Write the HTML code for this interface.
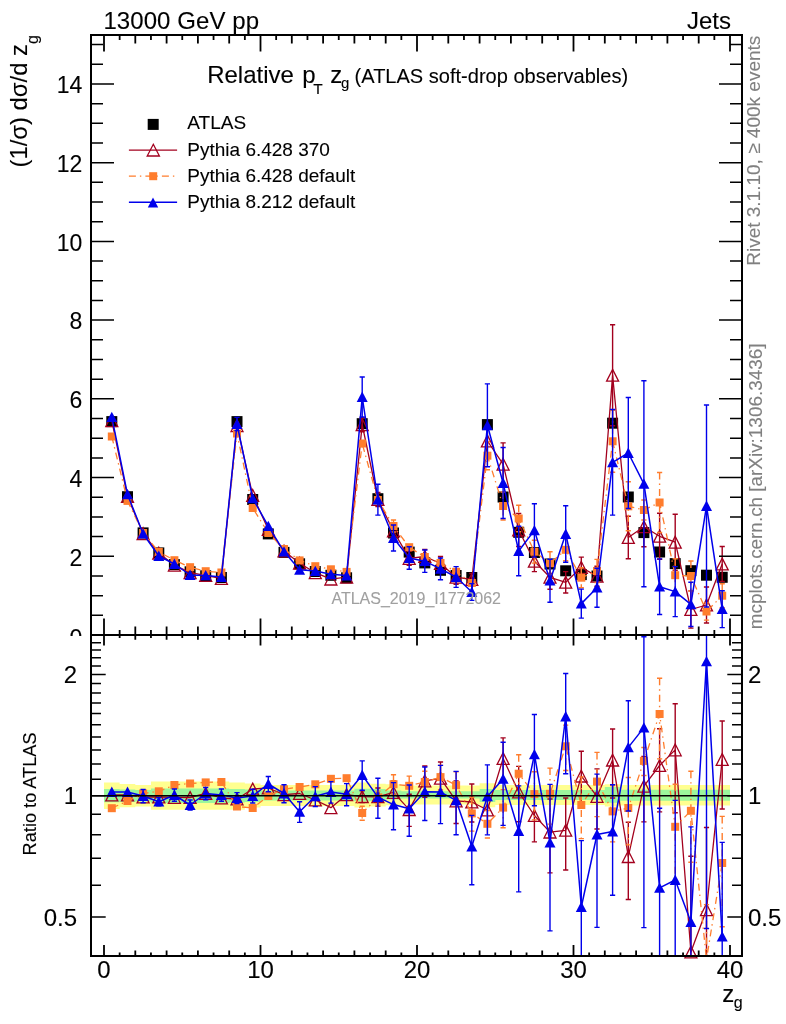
<!DOCTYPE html><html><head><meta charset="utf-8"><style>html,body{margin:0;padding:0;background:#fff}svg{display:block;will-change:transform}</style></head><body>
<svg width="786" height="1024" viewBox="0 0 786 1024" font-family="Liberation Sans, sans-serif">
<style>text{stroke:#000;stroke-width:0.1px}</style>
<defs><clipPath id="cm"><rect x="92" y="36" width="649" height="598"/></clipPath><clipPath id="cr"><rect x="92" y="636" width="649" height="319"/></clipPath></defs>
<rect width="786" height="1024" fill="#fff"/>
<text x="103.4" y="28.8" font-size="24" letter-spacing="0.08">13000 GeV pp</text><text x="731" y="28.8" font-size="24" text-anchor="end">Jets</text><text x="207.2" y="82.8" font-size="24">Relative</text><text x="302.3" y="82.8" font-size="24">p</text><text x="313.2" y="94.4" font-size="15.5">T</text><text x="330.3" y="82.6" font-size="24">z</text><text x="341" y="88.4" font-size="15">g</text><text x="354.6" y="82.9" font-size="20.05">(ATLAS soft-drop observables)</text><rect x="147.7" y="118.9" width="11" height="11" fill="#000"/><path d="M128.9,150.2H177.1" stroke="#a3001e" stroke-width="1.3"/><path d="M153.3,144.3L159.4,156H147.2Z" fill="none" stroke="#a3001e" stroke-width="1.3"/><path d="M128.9,176.1H177.1" stroke="#ff7d2d" stroke-width="1.3" stroke-dasharray="7,4,1.4,4.1"/><rect x="149.2" y="172.2" width="8" height="8" fill="#ff7d2d"/><path d="M128.9,202.2H177.1" stroke="#0000eb" stroke-width="1.5"/><path d="M153,197.5L158.2,207.6H147.8Z" fill="#0000eb"/><text x="187.3" y="129.4" font-size="19">ATLAS</text><text x="187.3" y="155.6" font-size="19">Pythia 6.428 370</text><text x="187.3" y="181.9" font-size="19">Pythia 6.428 default</text><text x="187.3" y="208.0" font-size="19">Pythia 8.212 default</text><text transform="translate(27,167.4) rotate(-90)" font-size="23.8">(1/σ) dσ/d z<tspan font-size="16" dy="10.8">g</tspan></text><text transform="translate(760.2,265.8) rotate(-90)" font-size="19" fill="#808080" style="stroke:#808080">Rivet 3.1.10, ≥ 400k events</text><text transform="translate(762.2,629.2) rotate(-90)" font-size="18.9" fill="#808080" style="stroke:#808080">mcplots.cern.ch [arXiv:1306.3436]</text><text transform="translate(36.2,855.4) rotate(-90)" font-size="18.2">Ratio to ATLAS</text><text x="722.3" y="1001.9" font-size="24">z</text><text x="733.8" y="1008" font-size="16">g</text>
<g clip-path="url(#cm)"></g><rect x="106.3" y="416.1" width="11" height="11" fill="#000"/><rect x="122.0" y="491.2" width="11" height="11" fill="#000"/><rect x="137.6" y="527.4" width="11" height="11" fill="#000"/><rect x="153.3" y="547.4" width="11" height="11" fill="#000"/><rect x="168.9" y="559.1" width="11" height="11" fill="#000"/><rect x="184.6" y="566.3" width="11" height="11" fill="#000"/><rect x="200.2" y="570.3" width="11" height="11" fill="#000"/><rect x="215.9" y="572.0" width="11" height="11" fill="#000"/><rect x="231.5" y="416.1" width="11" height="11" fill="#000"/><rect x="247.2" y="494.0" width="11" height="11" fill="#000"/><rect x="262.8" y="528.4" width="11" height="11" fill="#000"/><rect x="278.5" y="546.9" width="11" height="11" fill="#000"/><rect x="294.1" y="558.3" width="11" height="11" fill="#000"/><rect x="309.8" y="566.0" width="11" height="11" fill="#000"/><rect x="325.4" y="569.8" width="11" height="11" fill="#000"/><rect x="341.1" y="572.3" width="11" height="11" fill="#000"/><rect x="356.7" y="418.2" width="11" height="11" fill="#000"/><rect x="372.4" y="493.2" width="11" height="11" fill="#000"/><rect x="388.0" y="527.5" width="11" height="11" fill="#000"/><rect x="403.7" y="546.6" width="11" height="11" fill="#000"/><rect x="419.3" y="557.4" width="11" height="11" fill="#000"/><rect x="435.0" y="564.8" width="11" height="11" fill="#000"/><rect x="450.6" y="570.0" width="11" height="11" fill="#000"/><rect x="466.3" y="572.0" width="11" height="11" fill="#000"/><rect x="481.9" y="419.1" width="11" height="11" fill="#000"/><rect x="497.6" y="491.5" width="11" height="11" fill="#000"/><rect x="513.2" y="526.8" width="11" height="11" fill="#000"/><rect x="528.9" y="547.0" width="11" height="11" fill="#000"/><rect x="544.5" y="558.5" width="11" height="11" fill="#000"/><rect x="560.2" y="565.3" width="11" height="11" fill="#000"/><rect x="575.8" y="569.1" width="11" height="11" fill="#000"/><rect x="591.5" y="570.5" width="11" height="11" fill="#000"/><rect x="607.1" y="417.7" width="11" height="11" fill="#000"/><rect x="622.8" y="491.5" width="11" height="11" fill="#000"/><rect x="638.4" y="527.1" width="11" height="11" fill="#000"/><rect x="654.1" y="546.5" width="11" height="11" fill="#000"/><rect x="669.7" y="558.1" width="11" height="11" fill="#000"/><rect x="685.4" y="565.2" width="11" height="11" fill="#000"/><rect x="701.0" y="569.7" width="11" height="11" fill="#000"/><rect x="716.7" y="571.8" width="11" height="11" fill="#000"/>
<g clip-path="url(#cm)"><path d="M111.8,420.7 L127.5,496.5 L143.1,533.6 L158.8,553.1 L174.4,565.2 L190.1,572.7 L205.7,575.4 L221.4,578.5 L237.0,425.7 L252.7,495.4 L268.3,529.4 L284.0,551.0 L299.6,563.2 L315.3,572.7 L330.9,579.1 L346.6,577.2 L362.2,424.7 L377.9,499.5 L393.5,531.0 L409.2,558.4 L424.8,556.5 L440.5,563.5 L456.1,577.2 L471.8,579.5 L487.4,441.0 L503.1,464.2 L518.7,530.0 L534.4,561.3 L550.0,577.3 L565.7,582.3 L581.3,567.4 L597.0,576.2 L612.6,375.3 L628.3,537.5 L643.9,526.8 L659.6,536.3 L675.2,542.2 L690.9,609.5 L706.5,605.0 L722.2,564.0" fill="none" stroke="#a3001e" stroke-width="1.3" stroke-linejoin="round"/><path d="M362.2,417.7V431.7" stroke="#a3001e" stroke-width="1.4" fill="none"/><path d="M359.6,417.7h5.2M359.6,431.7h5.2" stroke="#a3001e" stroke-width="1.4" fill="none"/><path d="M377.9,492.5V506.5" stroke="#a3001e" stroke-width="1.4" fill="none"/><path d="M375.3,492.5h5.2M375.3,506.5h5.2" stroke="#a3001e" stroke-width="1.4" fill="none"/><path d="M393.5,524.0V538.0" stroke="#a3001e" stroke-width="1.4" fill="none"/><path d="M390.9,524.0h5.2M390.9,538.0h5.2" stroke="#a3001e" stroke-width="1.4" fill="none"/><path d="M409.2,551.4V565.4" stroke="#a3001e" stroke-width="1.4" fill="none"/><path d="M406.6,551.4h5.2M406.6,565.4h5.2" stroke="#a3001e" stroke-width="1.4" fill="none"/><path d="M424.8,549.5V563.5" stroke="#a3001e" stroke-width="1.4" fill="none"/><path d="M422.2,549.5h5.2M422.2,563.5h5.2" stroke="#a3001e" stroke-width="1.4" fill="none"/><path d="M440.5,556.5V570.5" stroke="#a3001e" stroke-width="1.4" fill="none"/><path d="M437.9,556.5h5.2M437.9,570.5h5.2" stroke="#a3001e" stroke-width="1.4" fill="none"/><path d="M456.1,570.2V584.2" stroke="#a3001e" stroke-width="1.4" fill="none"/><path d="M453.5,570.2h5.2M453.5,584.2h5.2" stroke="#a3001e" stroke-width="1.4" fill="none"/><path d="M471.8,573.5V585.5" stroke="#a3001e" stroke-width="1.4" fill="none"/><path d="M469.2,573.5h5.2M469.2,585.5h5.2" stroke="#a3001e" stroke-width="1.4" fill="none"/><path d="M487.4,426.0V456.0" stroke="#a3001e" stroke-width="1.4" fill="none"/><path d="M484.8,426.0h5.2M484.8,456.0h5.2" stroke="#a3001e" stroke-width="1.4" fill="none"/><path d="M503.1,442.9V485.5" stroke="#a3001e" stroke-width="1.4" fill="none"/><path d="M500.5,442.9h5.2M500.5,485.5h5.2" stroke="#a3001e" stroke-width="1.4" fill="none"/><path d="M518.7,513.5V546.5" stroke="#a3001e" stroke-width="1.4" fill="none"/><path d="M516.1,513.5h5.2M516.1,546.5h5.2" stroke="#a3001e" stroke-width="1.4" fill="none"/><path d="M534.4,551.0V571.6" stroke="#a3001e" stroke-width="1.4" fill="none"/><path d="M531.8,551.0h5.2M531.8,571.6h5.2" stroke="#a3001e" stroke-width="1.4" fill="none"/><path d="M550.0,565.3V589.3" stroke="#a3001e" stroke-width="1.4" fill="none"/><path d="M547.4,565.3h5.2M547.4,589.3h5.2" stroke="#a3001e" stroke-width="1.4" fill="none"/><path d="M565.7,571.6V593.0" stroke="#a3001e" stroke-width="1.4" fill="none"/><path d="M563.1,571.6h5.2M563.1,593.0h5.2" stroke="#a3001e" stroke-width="1.4" fill="none"/><path d="M581.3,557.1V577.7" stroke="#a3001e" stroke-width="1.4" fill="none"/><path d="M578.7,557.1h5.2M578.7,577.7h5.2" stroke="#a3001e" stroke-width="1.4" fill="none"/><path d="M597.0,566.2V586.2" stroke="#a3001e" stroke-width="1.4" fill="none"/><path d="M594.4,566.2h5.2M594.4,586.2h5.2" stroke="#a3001e" stroke-width="1.4" fill="none"/><path d="M612.6,324.8V425.8" stroke="#a3001e" stroke-width="1.4" fill="none"/><path d="M610.0,324.8h5.2M610.0,425.8h5.2" stroke="#a3001e" stroke-width="1.4" fill="none"/><path d="M628.3,516.3V558.7" stroke="#a3001e" stroke-width="1.4" fill="none"/><path d="M625.7,516.3h5.2M625.7,558.7h5.2" stroke="#a3001e" stroke-width="1.4" fill="none"/><path d="M643.9,506.8V546.8" stroke="#a3001e" stroke-width="1.4" fill="none"/><path d="M641.3,506.8h5.2M641.3,546.8h5.2" stroke="#a3001e" stroke-width="1.4" fill="none"/><path d="M659.6,513.3V559.3" stroke="#a3001e" stroke-width="1.4" fill="none"/><path d="M657.0,513.3h5.2M657.0,559.3h5.2" stroke="#a3001e" stroke-width="1.4" fill="none"/><path d="M675.2,514.2V570.2" stroke="#a3001e" stroke-width="1.4" fill="none"/><path d="M672.6,514.2h5.2M672.6,570.2h5.2" stroke="#a3001e" stroke-width="1.4" fill="none"/><path d="M690.9,590.9V628.1" stroke="#a3001e" stroke-width="1.4" fill="none"/><path d="M688.3,590.9h5.2M688.3,628.1h5.2" stroke="#a3001e" stroke-width="1.4" fill="none"/><path d="M706.5,587.0V623.0" stroke="#a3001e" stroke-width="1.4" fill="none"/><path d="M703.9,587.0h5.2M703.9,623.0h5.2" stroke="#a3001e" stroke-width="1.4" fill="none"/><path d="M722.2,546.5V581.5" stroke="#a3001e" stroke-width="1.4" fill="none"/><path d="M719.6,546.5h5.2M719.6,581.5h5.2" stroke="#a3001e" stroke-width="1.4" fill="none"/></g><path d="M111.8,414.8L117.8,426.6H105.8Z" fill="none" stroke="#a3001e" stroke-width="1.3" stroke-linejoin="miter"/><path d="M127.5,490.6L133.5,502.4H121.5Z" fill="none" stroke="#a3001e" stroke-width="1.3" stroke-linejoin="miter"/><path d="M143.1,527.7L149.1,539.5H137.1Z" fill="none" stroke="#a3001e" stroke-width="1.3" stroke-linejoin="miter"/><path d="M158.8,547.2L164.8,559.0H152.8Z" fill="none" stroke="#a3001e" stroke-width="1.3" stroke-linejoin="miter"/><path d="M174.4,559.3L180.4,571.1H168.4Z" fill="none" stroke="#a3001e" stroke-width="1.3" stroke-linejoin="miter"/><path d="M190.1,566.8L196.1,578.6H184.1Z" fill="none" stroke="#a3001e" stroke-width="1.3" stroke-linejoin="miter"/><path d="M205.7,569.5L211.7,581.3H199.7Z" fill="none" stroke="#a3001e" stroke-width="1.3" stroke-linejoin="miter"/><path d="M221.4,572.6L227.4,584.4H215.4Z" fill="none" stroke="#a3001e" stroke-width="1.3" stroke-linejoin="miter"/><path d="M237.0,419.8L243.0,431.6H231.0Z" fill="none" stroke="#a3001e" stroke-width="1.3" stroke-linejoin="miter"/><path d="M252.7,489.5L258.7,501.3H246.7Z" fill="none" stroke="#a3001e" stroke-width="1.3" stroke-linejoin="miter"/><path d="M268.3,523.5L274.3,535.3H262.3Z" fill="none" stroke="#a3001e" stroke-width="1.3" stroke-linejoin="miter"/><path d="M284.0,545.1L290.0,556.9H278.0Z" fill="none" stroke="#a3001e" stroke-width="1.3" stroke-linejoin="miter"/><path d="M299.6,557.3L305.6,569.1H293.6Z" fill="none" stroke="#a3001e" stroke-width="1.3" stroke-linejoin="miter"/><path d="M315.3,566.8L321.3,578.6H309.3Z" fill="none" stroke="#a3001e" stroke-width="1.3" stroke-linejoin="miter"/><path d="M330.9,573.2L336.9,585.0H324.9Z" fill="none" stroke="#a3001e" stroke-width="1.3" stroke-linejoin="miter"/><path d="M346.6,571.3L352.6,583.1H340.6Z" fill="none" stroke="#a3001e" stroke-width="1.3" stroke-linejoin="miter"/><path d="M362.2,418.8L368.2,430.6H356.2Z" fill="none" stroke="#a3001e" stroke-width="1.3" stroke-linejoin="miter"/><path d="M377.9,493.6L383.9,505.4H371.9Z" fill="none" stroke="#a3001e" stroke-width="1.3" stroke-linejoin="miter"/><path d="M393.5,525.1L399.5,536.9H387.5Z" fill="none" stroke="#a3001e" stroke-width="1.3" stroke-linejoin="miter"/><path d="M409.2,552.5L415.2,564.3H403.2Z" fill="none" stroke="#a3001e" stroke-width="1.3" stroke-linejoin="miter"/><path d="M424.8,550.6L430.8,562.4H418.8Z" fill="none" stroke="#a3001e" stroke-width="1.3" stroke-linejoin="miter"/><path d="M440.5,557.6L446.5,569.4H434.5Z" fill="none" stroke="#a3001e" stroke-width="1.3" stroke-linejoin="miter"/><path d="M456.1,571.3L462.1,583.1H450.1Z" fill="none" stroke="#a3001e" stroke-width="1.3" stroke-linejoin="miter"/><path d="M471.8,573.6L477.8,585.4H465.8Z" fill="none" stroke="#a3001e" stroke-width="1.3" stroke-linejoin="miter"/><path d="M487.4,435.1L493.4,446.9H481.4Z" fill="none" stroke="#a3001e" stroke-width="1.3" stroke-linejoin="miter"/><path d="M503.1,458.3L509.1,470.1H497.1Z" fill="none" stroke="#a3001e" stroke-width="1.3" stroke-linejoin="miter"/><path d="M518.7,524.1L524.7,535.9H512.7Z" fill="none" stroke="#a3001e" stroke-width="1.3" stroke-linejoin="miter"/><path d="M534.4,555.4L540.4,567.2H528.4Z" fill="none" stroke="#a3001e" stroke-width="1.3" stroke-linejoin="miter"/><path d="M550.0,571.4L556.0,583.2H544.0Z" fill="none" stroke="#a3001e" stroke-width="1.3" stroke-linejoin="miter"/><path d="M565.7,576.4L571.7,588.2H559.7Z" fill="none" stroke="#a3001e" stroke-width="1.3" stroke-linejoin="miter"/><path d="M581.3,561.5L587.3,573.3H575.3Z" fill="none" stroke="#a3001e" stroke-width="1.3" stroke-linejoin="miter"/><path d="M597.0,570.3L603.0,582.1H591.0Z" fill="none" stroke="#a3001e" stroke-width="1.3" stroke-linejoin="miter"/><path d="M612.6,369.4L618.6,381.2H606.6Z" fill="none" stroke="#a3001e" stroke-width="1.3" stroke-linejoin="miter"/><path d="M628.3,531.6L634.3,543.4H622.3Z" fill="none" stroke="#a3001e" stroke-width="1.3" stroke-linejoin="miter"/><path d="M643.9,520.9L649.9,532.7H637.9Z" fill="none" stroke="#a3001e" stroke-width="1.3" stroke-linejoin="miter"/><path d="M659.6,530.4L665.6,542.2H653.6Z" fill="none" stroke="#a3001e" stroke-width="1.3" stroke-linejoin="miter"/><path d="M675.2,536.3L681.2,548.1H669.2Z" fill="none" stroke="#a3001e" stroke-width="1.3" stroke-linejoin="miter"/><path d="M690.9,603.6L696.9,615.4H684.9Z" fill="none" stroke="#a3001e" stroke-width="1.3" stroke-linejoin="miter"/><path d="M706.5,599.1L712.5,610.9H700.5Z" fill="none" stroke="#a3001e" stroke-width="1.3" stroke-linejoin="miter"/><path d="M722.2,558.1L728.2,569.9H716.2Z" fill="none" stroke="#a3001e" stroke-width="1.3" stroke-linejoin="miter"/>
<g clip-path="url(#cm)"><path d="M111.8,436.5 L127.5,500.9 L143.1,533.0 L158.8,551.9 L174.4,560.2 L190.1,567.2 L205.7,571.2 L221.4,572.5 L237.0,433.5 L252.7,508.0 L268.3,533.0 L284.0,549.0 L299.6,560.4 L315.3,566.2 L330.9,569.3 L346.6,571.9 L362.2,443.5 L377.9,500.0 L393.5,526.0 L409.2,547.2 L424.8,557.0 L440.5,563.0 L456.1,571.8 L471.8,583.0 L487.4,455.7 L503.1,506.0 L518.7,518.5 L534.4,551.7 L550.0,563.2 L565.7,549.8 L581.3,577.7 L597.0,571.0 L612.6,441.3 L628.3,506.3 L643.9,510.0 L659.6,502.5 L675.2,575.2 L690.9,576.0 L706.5,611.5 L722.2,595.7" fill="none" stroke="#ff7d2d" stroke-width="1.3" stroke-dasharray="7,4,1.4,4.1" stroke-linejoin="round"/><path d="M393.5,520.0V532.0" stroke="#ff7d2d" stroke-width="1.4" fill="none" stroke-dasharray="7,4,1.4,4.1"/><path d="M390.9,520.0h5.2M390.9,532.0h5.2" stroke="#ff7d2d" stroke-width="1.4" fill="none"/><path d="M487.4,441.7V469.7" stroke="#ff7d2d" stroke-width="1.4" fill="none" stroke-dasharray="7,4,1.4,4.1"/><path d="M484.8,441.7h5.2M484.8,469.7h5.2" stroke="#ff7d2d" stroke-width="1.4" fill="none"/><path d="M503.1,492.0V520.0" stroke="#ff7d2d" stroke-width="1.4" fill="none" stroke-dasharray="7,4,1.4,4.1"/><path d="M500.5,492.0h5.2M500.5,520.0h5.2" stroke="#ff7d2d" stroke-width="1.4" fill="none"/><path d="M518.7,505.2V531.8" stroke="#ff7d2d" stroke-width="1.4" fill="none" stroke-dasharray="7,4,1.4,4.1"/><path d="M516.1,505.2h5.2M516.1,531.8h5.2" stroke="#ff7d2d" stroke-width="1.4" fill="none"/><path d="M534.4,540.3V563.1" stroke="#ff7d2d" stroke-width="1.4" fill="none" stroke-dasharray="7,4,1.4,4.1"/><path d="M531.8,540.3h5.2M531.8,563.1h5.2" stroke="#ff7d2d" stroke-width="1.4" fill="none"/><path d="M550.0,551.8V574.6" stroke="#ff7d2d" stroke-width="1.4" fill="none" stroke-dasharray="7,4,1.4,4.1"/><path d="M547.4,551.8h5.2M547.4,574.6h5.2" stroke="#ff7d2d" stroke-width="1.4" fill="none"/><path d="M565.7,538.8V560.8" stroke="#ff7d2d" stroke-width="1.4" fill="none" stroke-dasharray="7,4,1.4,4.1"/><path d="M563.1,538.8h5.2M563.1,560.8h5.2" stroke="#ff7d2d" stroke-width="1.4" fill="none"/><path d="M581.3,567.7V587.7" stroke="#ff7d2d" stroke-width="1.4" fill="none" stroke-dasharray="7,4,1.4,4.1"/><path d="M578.7,567.7h5.2M578.7,587.7h5.2" stroke="#ff7d2d" stroke-width="1.4" fill="none"/><path d="M597.0,559.4V582.6" stroke="#ff7d2d" stroke-width="1.4" fill="none" stroke-dasharray="7,4,1.4,4.1"/><path d="M594.4,559.4h5.2M594.4,582.6h5.2" stroke="#ff7d2d" stroke-width="1.4" fill="none"/><path d="M612.6,410.3V472.3" stroke="#ff7d2d" stroke-width="1.4" fill="none" stroke-dasharray="7,4,1.4,4.1"/><path d="M610.0,410.3h5.2M610.0,472.3h5.2" stroke="#ff7d2d" stroke-width="1.4" fill="none"/><path d="M628.3,481.8V530.8" stroke="#ff7d2d" stroke-width="1.4" fill="none" stroke-dasharray="7,4,1.4,4.1"/><path d="M625.7,481.8h5.2M625.7,530.8h5.2" stroke="#ff7d2d" stroke-width="1.4" fill="none"/><path d="M643.9,500.0V520.0" stroke="#ff7d2d" stroke-width="1.4" fill="none" stroke-dasharray="7,4,1.4,4.1"/><path d="M641.3,500.0h5.2M641.3,520.0h5.2" stroke="#ff7d2d" stroke-width="1.4" fill="none"/><path d="M659.6,472.5V532.5" stroke="#ff7d2d" stroke-width="1.4" fill="none" stroke-dasharray="7,4,1.4,4.1"/><path d="M657.0,472.5h5.2M657.0,532.5h5.2" stroke="#ff7d2d" stroke-width="1.4" fill="none"/><path d="M675.2,558.7V591.7" stroke="#ff7d2d" stroke-width="1.4" fill="none" stroke-dasharray="7,4,1.4,4.1"/><path d="M672.6,558.7h5.2M672.6,591.7h5.2" stroke="#ff7d2d" stroke-width="1.4" fill="none"/><path d="M690.9,561.0V591.0" stroke="#ff7d2d" stroke-width="1.4" fill="none" stroke-dasharray="7,4,1.4,4.1"/><path d="M688.3,561.0h5.2M688.3,591.0h5.2" stroke="#ff7d2d" stroke-width="1.4" fill="none"/><path d="M706.5,602.9V620.1" stroke="#ff7d2d" stroke-width="1.4" fill="none" stroke-dasharray="7,4,1.4,4.1"/><path d="M703.9,602.9h5.2M703.9,620.1h5.2" stroke="#ff7d2d" stroke-width="1.4" fill="none"/><path d="M722.2,583.7V607.7" stroke="#ff7d2d" stroke-width="1.4" fill="none" stroke-dasharray="7,4,1.4,4.1"/><path d="M719.6,583.7h5.2M719.6,607.7h5.2" stroke="#ff7d2d" stroke-width="1.4" fill="none"/></g><rect x="107.8" y="432.5" width="8" height="8" fill="#ff7d2d"/><rect x="123.5" y="496.9" width="8" height="8" fill="#ff7d2d"/><rect x="139.1" y="529.0" width="8" height="8" fill="#ff7d2d"/><rect x="154.8" y="547.9" width="8" height="8" fill="#ff7d2d"/><rect x="170.4" y="556.2" width="8" height="8" fill="#ff7d2d"/><rect x="186.1" y="563.2" width="8" height="8" fill="#ff7d2d"/><rect x="201.7" y="567.2" width="8" height="8" fill="#ff7d2d"/><rect x="217.4" y="568.5" width="8" height="8" fill="#ff7d2d"/><rect x="233.0" y="429.5" width="8" height="8" fill="#ff7d2d"/><rect x="248.7" y="504.0" width="8" height="8" fill="#ff7d2d"/><rect x="264.3" y="529.0" width="8" height="8" fill="#ff7d2d"/><rect x="280.0" y="545.0" width="8" height="8" fill="#ff7d2d"/><rect x="295.6" y="556.4" width="8" height="8" fill="#ff7d2d"/><rect x="311.3" y="562.2" width="8" height="8" fill="#ff7d2d"/><rect x="326.9" y="565.3" width="8" height="8" fill="#ff7d2d"/><rect x="342.6" y="567.9" width="8" height="8" fill="#ff7d2d"/><rect x="358.2" y="439.5" width="8" height="8" fill="#ff7d2d"/><rect x="373.9" y="496.0" width="8" height="8" fill="#ff7d2d"/><rect x="389.5" y="522.0" width="8" height="8" fill="#ff7d2d"/><rect x="405.2" y="543.2" width="8" height="8" fill="#ff7d2d"/><rect x="420.8" y="553.0" width="8" height="8" fill="#ff7d2d"/><rect x="436.5" y="559.0" width="8" height="8" fill="#ff7d2d"/><rect x="452.1" y="567.8" width="8" height="8" fill="#ff7d2d"/><rect x="467.8" y="579.0" width="8" height="8" fill="#ff7d2d"/><rect x="483.4" y="451.7" width="8" height="8" fill="#ff7d2d"/><rect x="499.1" y="502.0" width="8" height="8" fill="#ff7d2d"/><rect x="514.7" y="514.5" width="8" height="8" fill="#ff7d2d"/><rect x="530.4" y="547.7" width="8" height="8" fill="#ff7d2d"/><rect x="546.0" y="559.2" width="8" height="8" fill="#ff7d2d"/><rect x="561.7" y="545.8" width="8" height="8" fill="#ff7d2d"/><rect x="577.3" y="573.7" width="8" height="8" fill="#ff7d2d"/><rect x="593.0" y="567.0" width="8" height="8" fill="#ff7d2d"/><rect x="608.6" y="437.3" width="8" height="8" fill="#ff7d2d"/><rect x="624.3" y="502.3" width="8" height="8" fill="#ff7d2d"/><rect x="639.9" y="506.0" width="8" height="8" fill="#ff7d2d"/><rect x="655.6" y="498.5" width="8" height="8" fill="#ff7d2d"/><rect x="671.2" y="571.2" width="8" height="8" fill="#ff7d2d"/><rect x="686.9" y="572.0" width="8" height="8" fill="#ff7d2d"/><rect x="702.5" y="607.5" width="8" height="8" fill="#ff7d2d"/><rect x="718.2" y="591.7" width="8" height="8" fill="#ff7d2d"/>
<g clip-path="url(#cm)"><path d="M111.8,417.2 L127.5,494.4 L143.1,533.7 L158.8,556.0 L174.4,564.0 L190.1,575.0 L205.7,575.4 L221.4,577.0 L237.0,424.0 L252.7,498.4 L268.3,526.2 L284.0,551.6 L299.6,569.8 L315.3,571.1 L330.9,574.3 L346.6,575.5 L362.2,397.0 L377.9,499.7 L393.5,538.0 L409.2,558.0 L424.8,561.2 L440.5,568.9 L456.1,577.0 L471.8,592.0 L487.4,425.3 L503.1,483.0 L518.7,551.0 L534.4,530.4 L550.0,580.7 L565.7,534.0 L581.3,603.6 L597.0,587.7 L612.6,462.3 L628.3,453.0 L643.9,483.8 L659.6,586.7 L675.2,591.6 L690.9,604.4 L706.5,506.0 L722.2,609.2" fill="none" stroke="#0000eb" stroke-width="1.5" stroke-linejoin="round"/><path d="M237.0,417.4V430.6" stroke="#0000eb" stroke-width="1.4" fill="none"/><path d="M234.4,417.4h5.2M234.4,430.6h5.2" stroke="#0000eb" stroke-width="1.4" fill="none"/><path d="M362.2,377.0V417.0" stroke="#0000eb" stroke-width="1.4" fill="none"/><path d="M359.6,377.0h5.2M359.6,417.0h5.2" stroke="#0000eb" stroke-width="1.4" fill="none"/><path d="M377.9,484.3V515.1" stroke="#0000eb" stroke-width="1.4" fill="none"/><path d="M375.3,484.3h5.2M375.3,515.1h5.2" stroke="#0000eb" stroke-width="1.4" fill="none"/><path d="M393.5,525.0V551.0" stroke="#0000eb" stroke-width="1.4" fill="none"/><path d="M390.9,525.0h5.2M390.9,551.0h5.2" stroke="#0000eb" stroke-width="1.4" fill="none"/><path d="M409.2,546.8V569.2" stroke="#0000eb" stroke-width="1.4" fill="none"/><path d="M406.6,546.8h5.2M406.6,569.2h5.2" stroke="#0000eb" stroke-width="1.4" fill="none"/><path d="M424.8,550.0V572.4" stroke="#0000eb" stroke-width="1.4" fill="none"/><path d="M422.2,550.0h5.2M422.2,572.4h5.2" stroke="#0000eb" stroke-width="1.4" fill="none"/><path d="M440.5,558.0V579.8" stroke="#0000eb" stroke-width="1.4" fill="none"/><path d="M437.9,558.0h5.2M437.9,579.8h5.2" stroke="#0000eb" stroke-width="1.4" fill="none"/><path d="M456.1,566.6V587.4" stroke="#0000eb" stroke-width="1.4" fill="none"/><path d="M453.5,566.6h5.2M453.5,587.4h5.2" stroke="#0000eb" stroke-width="1.4" fill="none"/><path d="M471.8,583.6V600.4" stroke="#0000eb" stroke-width="1.4" fill="none"/><path d="M469.2,583.6h5.2M469.2,600.4h5.2" stroke="#0000eb" stroke-width="1.4" fill="none"/><path d="M487.4,383.9V466.7" stroke="#0000eb" stroke-width="1.4" fill="none"/><path d="M484.8,383.9h5.2M484.8,466.7h5.2" stroke="#0000eb" stroke-width="1.4" fill="none"/><path d="M503.1,447.5V518.5" stroke="#0000eb" stroke-width="1.4" fill="none"/><path d="M500.5,447.5h5.2M500.5,518.5h5.2" stroke="#0000eb" stroke-width="1.4" fill="none"/><path d="M518.7,526.3V575.7" stroke="#0000eb" stroke-width="1.4" fill="none"/><path d="M516.1,526.3h5.2M516.1,575.7h5.2" stroke="#0000eb" stroke-width="1.4" fill="none"/><path d="M534.4,503.7V557.1" stroke="#0000eb" stroke-width="1.4" fill="none"/><path d="M531.8,503.7h5.2M531.8,557.1h5.2" stroke="#0000eb" stroke-width="1.4" fill="none"/><path d="M550.0,559.2V602.2" stroke="#0000eb" stroke-width="1.4" fill="none"/><path d="M547.4,559.2h5.2M547.4,602.2h5.2" stroke="#0000eb" stroke-width="1.4" fill="none"/><path d="M565.7,505.8V562.2" stroke="#0000eb" stroke-width="1.4" fill="none"/><path d="M563.1,505.8h5.2M563.1,562.2h5.2" stroke="#0000eb" stroke-width="1.4" fill="none"/><path d="M581.3,589.1V618.1" stroke="#0000eb" stroke-width="1.4" fill="none"/><path d="M578.7,589.1h5.2M578.7,618.1h5.2" stroke="#0000eb" stroke-width="1.4" fill="none"/><path d="M597.0,568.2V607.2" stroke="#0000eb" stroke-width="1.4" fill="none"/><path d="M594.4,568.2h5.2M594.4,607.2h5.2" stroke="#0000eb" stroke-width="1.4" fill="none"/><path d="M612.6,409.5V515.1" stroke="#0000eb" stroke-width="1.4" fill="none"/><path d="M610.0,409.5h5.2M610.0,515.1h5.2" stroke="#0000eb" stroke-width="1.4" fill="none"/><path d="M628.3,397.5V508.5" stroke="#0000eb" stroke-width="1.4" fill="none"/><path d="M625.7,397.5h5.2M625.7,508.5h5.2" stroke="#0000eb" stroke-width="1.4" fill="none"/><path d="M643.9,380.8V586.8" stroke="#0000eb" stroke-width="1.4" fill="none"/><path d="M641.3,380.8h5.2M641.3,586.8h5.2" stroke="#0000eb" stroke-width="1.4" fill="none"/><path d="M659.6,558.9V614.5" stroke="#0000eb" stroke-width="1.4" fill="none"/><path d="M657.0,558.9h5.2M657.0,614.5h5.2" stroke="#0000eb" stroke-width="1.4" fill="none"/><path d="M675.2,566.6V616.6" stroke="#0000eb" stroke-width="1.4" fill="none"/><path d="M672.6,566.6h5.2M672.6,616.6h5.2" stroke="#0000eb" stroke-width="1.4" fill="none"/><path d="M690.9,582.3V626.5" stroke="#0000eb" stroke-width="1.4" fill="none"/><path d="M688.3,582.3h5.2M688.3,626.5h5.2" stroke="#0000eb" stroke-width="1.4" fill="none"/><path d="M706.5,405.0V607.0" stroke="#0000eb" stroke-width="1.4" fill="none"/><path d="M703.9,405.0h5.2M703.9,607.0h5.2" stroke="#0000eb" stroke-width="1.4" fill="none"/><path d="M722.2,590.8V627.6" stroke="#0000eb" stroke-width="1.4" fill="none"/><path d="M719.6,590.8h5.2M719.6,627.6h5.2" stroke="#0000eb" stroke-width="1.4" fill="none"/></g><path d="M111.8,411.8L117.3,422.1H106.3Z" fill="#0000eb"/><path d="M127.5,489.0L133.0,499.3H122.0Z" fill="#0000eb"/><path d="M143.1,528.3L148.6,538.6H137.6Z" fill="#0000eb"/><path d="M158.8,550.6L164.3,560.9H153.3Z" fill="#0000eb"/><path d="M174.4,558.6L179.9,568.9H168.9Z" fill="#0000eb"/><path d="M190.1,569.6L195.6,579.9H184.6Z" fill="#0000eb"/><path d="M205.7,570.0L211.2,580.3H200.2Z" fill="#0000eb"/><path d="M221.4,571.6L226.9,581.9H215.9Z" fill="#0000eb"/><path d="M237.0,418.6L242.5,428.9H231.5Z" fill="#0000eb"/><path d="M252.7,493.0L258.2,503.3H247.2Z" fill="#0000eb"/><path d="M268.3,520.8L273.8,531.1H262.8Z" fill="#0000eb"/><path d="M284.0,546.2L289.5,556.5H278.5Z" fill="#0000eb"/><path d="M299.6,564.4L305.1,574.7H294.1Z" fill="#0000eb"/><path d="M315.3,565.7L320.8,576.0H309.8Z" fill="#0000eb"/><path d="M330.9,568.9L336.4,579.2H325.4Z" fill="#0000eb"/><path d="M346.6,570.1L352.1,580.4H341.1Z" fill="#0000eb"/><path d="M362.2,391.6L367.7,401.9H356.7Z" fill="#0000eb"/><path d="M377.9,494.3L383.4,504.6H372.4Z" fill="#0000eb"/><path d="M393.5,532.6L399.0,542.9H388.0Z" fill="#0000eb"/><path d="M409.2,552.6L414.7,562.9H403.7Z" fill="#0000eb"/><path d="M424.8,555.8L430.3,566.1H419.3Z" fill="#0000eb"/><path d="M440.5,563.5L446.0,573.8H435.0Z" fill="#0000eb"/><path d="M456.1,571.6L461.6,581.9H450.6Z" fill="#0000eb"/><path d="M471.8,586.6L477.3,596.9H466.3Z" fill="#0000eb"/><path d="M487.4,419.9L492.9,430.2H481.9Z" fill="#0000eb"/><path d="M503.1,477.6L508.6,487.9H497.6Z" fill="#0000eb"/><path d="M518.7,545.6L524.2,555.9H513.2Z" fill="#0000eb"/><path d="M534.4,525.0L539.9,535.3H528.9Z" fill="#0000eb"/><path d="M550.0,575.3L555.5,585.6H544.5Z" fill="#0000eb"/><path d="M565.7,528.6L571.2,538.9H560.2Z" fill="#0000eb"/><path d="M581.3,598.2L586.8,608.5H575.8Z" fill="#0000eb"/><path d="M597.0,582.3L602.5,592.6H591.5Z" fill="#0000eb"/><path d="M612.6,456.9L618.1,467.2H607.1Z" fill="#0000eb"/><path d="M628.3,447.6L633.8,457.9H622.8Z" fill="#0000eb"/><path d="M643.9,478.4L649.4,488.7H638.4Z" fill="#0000eb"/><path d="M659.6,581.3L665.1,591.6H654.1Z" fill="#0000eb"/><path d="M675.2,586.2L680.7,596.5H669.7Z" fill="#0000eb"/><path d="M690.9,599.0L696.4,609.3H685.4Z" fill="#0000eb"/><path d="M706.5,500.6L712.0,510.9H701.0Z" fill="#0000eb"/><path d="M722.2,603.8L727.7,614.1H716.7Z" fill="#0000eb"/>
<text x="331.4" y="604.2" font-size="16" fill="#a0a0a0" style="stroke:#a0a0a0">ATLAS_2019_I1772062</text>
<path d="M104.00,782.4V782.4H119.65V784.0H135.30V784.9H150.95V781.6H166.60V781.6H182.25V781.6H197.90V781.6H213.55V781.6H229.20V782.4H244.85V783.5H260.50V785.0H276.15V785.0H291.80V785.0H307.45V785.0H323.10V785.0H338.75V785.0H354.40V782.5H370.05V783.8H385.70V784.2H401.35V785.5H417.00V785.5H432.65V785.5H448.30V785.5H463.95V785.5H479.60V783.3H495.25V785.0H510.90V785.0H526.55V785.0H542.20V785.0H557.85V785.0H573.50V785.0H589.15V785.0H604.80V784.2H620.45V785.1H636.10V785.1H651.75V785.1H667.40V785.1H683.05V785.1H698.70V785.1H714.35V785.1H730.00V805.4H714.35V805.4H698.70V805.4H683.05V805.4H667.40V805.4H651.75V805.4H636.10V805.4H620.45V806.4H604.80V805.0H589.15V805.0H573.50V805.0H557.85V805.0H542.20V805.0H526.55V805.0H510.90V805.0H495.25V807.3H479.60V804.5H463.95V804.5H448.30V804.5H432.65V804.5H417.00V804.5H401.35V805.2H385.70V806.5H370.05V807.5H354.40V806.0H338.75V806.0H323.10V806.0H307.45V806.0H291.80V806.0H276.15V806.0H260.50V807.5H244.85V809.7H229.20V809.8H213.55V809.8H197.90V809.8H182.25V809.8H166.60V809.8H150.95V806.4H135.30V807.3H119.65V808.9H104.00Z" fill="#ffff90"/>
<path d="M104.00,789.0V789.0H119.65V789.5H135.30V790.0H150.95V788.5H166.60V788.5H182.25V788.5H197.90V788.5H213.55V788.5H229.20V789.0H244.85V789.5H260.50V790.5H276.15V790.5H291.80V790.5H307.45V790.5H323.10V790.5H338.75V790.5H354.40V788.7H370.05V789.0H385.70V790.5H401.35V791.2H417.00V791.2H432.65V791.2H448.30V791.2H463.95V791.2H479.60V789.0H495.25V790.0H510.90V790.0H526.55V790.0H542.20V790.0H557.85V790.0H573.50V790.0H589.15V790.0H604.80V787.0H620.45V789.8H636.10V789.8H651.75V789.8H667.40V789.8H683.05V789.8H698.70V789.8H714.35V789.8H730.00V800.8H714.35V800.8H698.70V800.8H683.05V800.8H667.40V800.8H651.75V800.8H636.10V800.8H620.45V802.7H604.80V800.0H589.15V800.0H573.50V800.0H557.85V800.0H542.20V800.0H526.55V800.0H510.90V800.0H495.25V802.0H479.60V798.6H463.95V798.6H448.30V798.6H432.65V798.6H417.00V798.6H401.35V799.4H385.70V801.0H370.05V801.2H354.40V800.5H338.75V800.5H323.10V800.5H307.45V800.5H291.80V800.5H276.15V800.5H260.50V802.0H244.85V802.5H229.20V803.0H213.55V803.0H197.90V803.0H182.25V803.0H166.60V803.0H150.95V801.5H135.30V802.0H119.65V802.3H104.00Z" fill="#9cf79c"/>
<g clip-path="url(#cr)"><path d="M111.8,795.0 L127.5,795.0 L143.1,797.0 L158.8,797.0 L174.4,797.4 L190.1,797.5 L205.7,793.4 L221.4,798.0 L237.0,799.0 L252.7,789.0 L268.3,788.0 L284.0,794.7 L299.6,793.5 L315.3,800.0 L330.9,807.7 L346.6,794.7 L362.2,796.6 L377.9,796.8 L393.5,792.4 L409.2,809.6 L424.8,780.9 L440.5,778.3 L456.1,800.9 L471.8,802.0 L487.4,810.0 L503.1,758.5 L518.7,791.9 L534.4,815.5 L550.0,832.1 L565.7,830.3 L581.3,776.1 L597.0,796.4 L612.6,760.1 L628.3,856.6 L643.9,786.2 L659.6,765.5 L675.2,749.9 L690.9,952.0 L706.5,909.7 L722.2,759.5" fill="none" stroke="#a3001e" stroke-width="1.3" stroke-linejoin="round"/><path d="M362.2,790.9V802.6" stroke="#a3001e" stroke-width="1.4" fill="none"/><path d="M359.6,790.9h5.2M359.6,802.6h5.2" stroke="#a3001e" stroke-width="1.4" fill="none"/><path d="M377.9,788.0V806.1" stroke="#a3001e" stroke-width="1.4" fill="none"/><path d="M375.3,788.0h5.2M375.3,806.1h5.2" stroke="#a3001e" stroke-width="1.4" fill="none"/><path d="M393.5,781.0V804.6" stroke="#a3001e" stroke-width="1.4" fill="none"/><path d="M390.9,781.0h5.2M390.9,804.6h5.2" stroke="#a3001e" stroke-width="1.4" fill="none"/><path d="M409.2,794.3V826.4" stroke="#a3001e" stroke-width="1.4" fill="none"/><path d="M406.6,794.3h5.2M406.6,826.4h5.2" stroke="#a3001e" stroke-width="1.4" fill="none"/><path d="M424.8,766.0V797.3" stroke="#a3001e" stroke-width="1.4" fill="none"/><path d="M422.2,766.0h5.2M422.2,797.3h5.2" stroke="#a3001e" stroke-width="1.4" fill="none"/><path d="M440.5,762.0V796.3" stroke="#a3001e" stroke-width="1.4" fill="none"/><path d="M437.9,762.0h5.2M437.9,796.3h5.2" stroke="#a3001e" stroke-width="1.4" fill="none"/><path d="M456.1,780.9V823.5" stroke="#a3001e" stroke-width="1.4" fill="none"/><path d="M453.5,780.9h5.2M453.5,823.5h5.2" stroke="#a3001e" stroke-width="1.4" fill="none"/><path d="M471.8,784.0V822.0" stroke="#a3001e" stroke-width="1.4" fill="none"/><path d="M469.2,784.0h5.2M469.2,822.0h5.2" stroke="#a3001e" stroke-width="1.4" fill="none"/><path d="M487.4,797.0V824.1" stroke="#a3001e" stroke-width="1.4" fill="none"/><path d="M484.8,797.0h5.2M484.8,824.1h5.2" stroke="#a3001e" stroke-width="1.4" fill="none"/><path d="M503.1,737.9V781.8" stroke="#a3001e" stroke-width="1.4" fill="none"/><path d="M500.5,737.9h5.2M500.5,781.8h5.2" stroke="#a3001e" stroke-width="1.4" fill="none"/><path d="M518.7,766.4V821.8" stroke="#a3001e" stroke-width="1.4" fill="none"/><path d="M516.1,766.4h5.2M516.1,821.8h5.2" stroke="#a3001e" stroke-width="1.4" fill="none"/><path d="M534.4,792.6V841.9" stroke="#a3001e" stroke-width="1.4" fill="none"/><path d="M531.8,792.6h5.2M531.8,841.9h5.2" stroke="#a3001e" stroke-width="1.4" fill="none"/><path d="M550.0,799.0V872.9" stroke="#a3001e" stroke-width="1.4" fill="none"/><path d="M547.4,799.0h5.2M547.4,872.9h5.2" stroke="#a3001e" stroke-width="1.4" fill="none"/><path d="M565.7,798.0V870.0" stroke="#a3001e" stroke-width="1.4" fill="none"/><path d="M563.1,798.0h5.2M563.1,870.0h5.2" stroke="#a3001e" stroke-width="1.4" fill="none"/><path d="M581.3,751.3V805.0" stroke="#a3001e" stroke-width="1.4" fill="none"/><path d="M578.7,751.3h5.2M578.7,805.0h5.2" stroke="#a3001e" stroke-width="1.4" fill="none"/><path d="M597.0,768.9V829.0" stroke="#a3001e" stroke-width="1.4" fill="none"/><path d="M594.4,768.9h5.2M594.4,829.0h5.2" stroke="#a3001e" stroke-width="1.4" fill="none"/><path d="M612.6,729.0V798.0" stroke="#a3001e" stroke-width="1.4" fill="none"/><path d="M610.0,729.0h5.2M610.0,798.0h5.2" stroke="#a3001e" stroke-width="1.4" fill="none"/><path d="M628.3,822.2V899.5" stroke="#a3001e" stroke-width="1.4" fill="none"/><path d="M625.7,822.2h5.2M625.7,899.5h5.2" stroke="#a3001e" stroke-width="1.4" fill="none"/><path d="M643.9,756.5V821.9" stroke="#a3001e" stroke-width="1.4" fill="none"/><path d="M641.3,756.5h5.2M641.3,821.9h5.2" stroke="#a3001e" stroke-width="1.4" fill="none"/><path d="M659.6,728.8V811.9" stroke="#a3001e" stroke-width="1.4" fill="none"/><path d="M657.0,728.8h5.2M657.0,811.9h5.2" stroke="#a3001e" stroke-width="1.4" fill="none"/><path d="M675.2,703.8V812.8" stroke="#a3001e" stroke-width="1.4" fill="none"/><path d="M672.6,703.8h5.2M672.6,812.8h5.2" stroke="#a3001e" stroke-width="1.4" fill="none"/><path d="M690.9,856.2V1180.7" stroke="#a3001e" stroke-width="1.4" fill="none"/><path d="M688.3,856.2h5.2M688.3,1180.7h5.2" stroke="#a3001e" stroke-width="1.4" fill="none"/><path d="M706.5,827.5V1070.0" stroke="#a3001e" stroke-width="1.4" fill="none"/><path d="M703.9,827.5h5.2M703.9,1070.0h5.2" stroke="#a3001e" stroke-width="1.4" fill="none"/><path d="M722.2,721.0V809.0" stroke="#a3001e" stroke-width="1.4" fill="none"/><path d="M719.6,721.0h5.2M719.6,809.0h5.2" stroke="#a3001e" stroke-width="1.4" fill="none"/></g><path d="M111.8,789.1L117.8,800.9H105.8Z" fill="none" stroke="#a3001e" stroke-width="1.3" stroke-linejoin="miter"/><path d="M127.5,789.1L133.5,800.9H121.5Z" fill="none" stroke="#a3001e" stroke-width="1.3" stroke-linejoin="miter"/><path d="M143.1,791.1L149.1,802.9H137.1Z" fill="none" stroke="#a3001e" stroke-width="1.3" stroke-linejoin="miter"/><path d="M158.8,791.1L164.8,802.9H152.8Z" fill="none" stroke="#a3001e" stroke-width="1.3" stroke-linejoin="miter"/><path d="M174.4,791.5L180.4,803.3H168.4Z" fill="none" stroke="#a3001e" stroke-width="1.3" stroke-linejoin="miter"/><path d="M190.1,791.6L196.1,803.4H184.1Z" fill="none" stroke="#a3001e" stroke-width="1.3" stroke-linejoin="miter"/><path d="M205.7,787.5L211.7,799.3H199.7Z" fill="none" stroke="#a3001e" stroke-width="1.3" stroke-linejoin="miter"/><path d="M221.4,792.1L227.4,803.9H215.4Z" fill="none" stroke="#a3001e" stroke-width="1.3" stroke-linejoin="miter"/><path d="M237.0,793.1L243.0,804.9H231.0Z" fill="none" stroke="#a3001e" stroke-width="1.3" stroke-linejoin="miter"/><path d="M252.7,783.1L258.7,794.9H246.7Z" fill="none" stroke="#a3001e" stroke-width="1.3" stroke-linejoin="miter"/><path d="M268.3,782.1L274.3,793.9H262.3Z" fill="none" stroke="#a3001e" stroke-width="1.3" stroke-linejoin="miter"/><path d="M284.0,788.8L290.0,800.6H278.0Z" fill="none" stroke="#a3001e" stroke-width="1.3" stroke-linejoin="miter"/><path d="M299.6,787.6L305.6,799.4H293.6Z" fill="none" stroke="#a3001e" stroke-width="1.3" stroke-linejoin="miter"/><path d="M315.3,794.1L321.3,805.9H309.3Z" fill="none" stroke="#a3001e" stroke-width="1.3" stroke-linejoin="miter"/><path d="M330.9,801.8L336.9,813.6H324.9Z" fill="none" stroke="#a3001e" stroke-width="1.3" stroke-linejoin="miter"/><path d="M346.6,788.8L352.6,800.6H340.6Z" fill="none" stroke="#a3001e" stroke-width="1.3" stroke-linejoin="miter"/><path d="M362.2,790.7L368.2,802.5H356.2Z" fill="none" stroke="#a3001e" stroke-width="1.3" stroke-linejoin="miter"/><path d="M377.9,790.9L383.9,802.7H371.9Z" fill="none" stroke="#a3001e" stroke-width="1.3" stroke-linejoin="miter"/><path d="M393.5,786.5L399.5,798.3H387.5Z" fill="none" stroke="#a3001e" stroke-width="1.3" stroke-linejoin="miter"/><path d="M409.2,803.7L415.2,815.5H403.2Z" fill="none" stroke="#a3001e" stroke-width="1.3" stroke-linejoin="miter"/><path d="M424.8,775.0L430.8,786.8H418.8Z" fill="none" stroke="#a3001e" stroke-width="1.3" stroke-linejoin="miter"/><path d="M440.5,772.4L446.5,784.2H434.5Z" fill="none" stroke="#a3001e" stroke-width="1.3" stroke-linejoin="miter"/><path d="M456.1,795.0L462.1,806.8H450.1Z" fill="none" stroke="#a3001e" stroke-width="1.3" stroke-linejoin="miter"/><path d="M471.8,796.1L477.8,807.9H465.8Z" fill="none" stroke="#a3001e" stroke-width="1.3" stroke-linejoin="miter"/><path d="M487.4,804.1L493.4,815.9H481.4Z" fill="none" stroke="#a3001e" stroke-width="1.3" stroke-linejoin="miter"/><path d="M503.1,752.6L509.1,764.4H497.1Z" fill="none" stroke="#a3001e" stroke-width="1.3" stroke-linejoin="miter"/><path d="M518.7,786.0L524.7,797.8H512.7Z" fill="none" stroke="#a3001e" stroke-width="1.3" stroke-linejoin="miter"/><path d="M534.4,809.6L540.4,821.4H528.4Z" fill="none" stroke="#a3001e" stroke-width="1.3" stroke-linejoin="miter"/><path d="M550.0,826.2L556.0,838.0H544.0Z" fill="none" stroke="#a3001e" stroke-width="1.3" stroke-linejoin="miter"/><path d="M565.7,824.4L571.7,836.2H559.7Z" fill="none" stroke="#a3001e" stroke-width="1.3" stroke-linejoin="miter"/><path d="M581.3,770.2L587.3,782.0H575.3Z" fill="none" stroke="#a3001e" stroke-width="1.3" stroke-linejoin="miter"/><path d="M597.0,790.5L603.0,802.3H591.0Z" fill="none" stroke="#a3001e" stroke-width="1.3" stroke-linejoin="miter"/><path d="M612.6,754.2L618.6,766.0H606.6Z" fill="none" stroke="#a3001e" stroke-width="1.3" stroke-linejoin="miter"/><path d="M628.3,850.7L634.3,862.5H622.3Z" fill="none" stroke="#a3001e" stroke-width="1.3" stroke-linejoin="miter"/><path d="M643.9,780.3L649.9,792.1H637.9Z" fill="none" stroke="#a3001e" stroke-width="1.3" stroke-linejoin="miter"/><path d="M659.6,759.6L665.6,771.4H653.6Z" fill="none" stroke="#a3001e" stroke-width="1.3" stroke-linejoin="miter"/><path d="M675.2,744.0L681.2,755.8H669.2Z" fill="none" stroke="#a3001e" stroke-width="1.3" stroke-linejoin="miter"/><path d="M690.9,946.1L696.9,957.9H684.9Z" fill="none" stroke="#a3001e" stroke-width="1.3" stroke-linejoin="miter"/><path d="M706.5,903.8L712.5,915.6H700.5Z" fill="none" stroke="#a3001e" stroke-width="1.3" stroke-linejoin="miter"/><path d="M722.2,753.6L728.2,765.4H716.2Z" fill="none" stroke="#a3001e" stroke-width="1.3" stroke-linejoin="miter"/>
<g clip-path="url(#cr)"><path d="M111.8,808.2 L127.5,801.0 L143.1,793.5 L158.8,791.3 L174.4,785.0 L190.1,783.5 L205.7,782.4 L221.4,782.0 L237.0,806.5 L252.7,808.0 L268.3,796.0 L284.0,789.3 L299.6,787.0 L315.3,784.3 L330.9,778.8 L346.6,778.2 L362.2,813.0 L377.9,797.5 L393.5,784.2 L409.2,785.8 L424.8,782.0 L440.5,777.1 L456.1,785.2 L471.8,813.4 L487.4,823.8 L503.1,807.6 L518.7,773.7 L534.4,794.1 L550.0,793.8 L565.7,746.3 L581.3,805.0 L597.0,781.6 L612.6,811.4 L628.3,808.0 L643.9,760.9 L659.6,714.0 L675.2,826.8 L690.9,810.8 L706.5,959.2 L722.2,863.0" fill="none" stroke="#ff7d2d" stroke-width="1.3" stroke-dasharray="7,4,1.4,4.1" stroke-linejoin="round"/><path d="M362.2,806.2V820.2" stroke="#ff7d2d" stroke-width="1.4" fill="none" stroke-dasharray="7,4,1.4,4.1"/><path d="M359.6,806.2h5.2M359.6,820.2h5.2" stroke="#ff7d2d" stroke-width="1.4" fill="none"/><path d="M377.9,791.1V804.1" stroke="#ff7d2d" stroke-width="1.4" fill="none" stroke-dasharray="7,4,1.4,4.1"/><path d="M375.3,791.1h5.2M375.3,804.1h5.2" stroke="#ff7d2d" stroke-width="1.4" fill="none"/><path d="M393.5,774.8V794.1" stroke="#ff7d2d" stroke-width="1.4" fill="none" stroke-dasharray="7,4,1.4,4.1"/><path d="M390.9,774.8h5.2M390.9,794.1h5.2" stroke="#ff7d2d" stroke-width="1.4" fill="none"/><path d="M409.2,776.1V796.0" stroke="#ff7d2d" stroke-width="1.4" fill="none" stroke-dasharray="7,4,1.4,4.1"/><path d="M406.6,776.1h5.2M406.6,796.0h5.2" stroke="#ff7d2d" stroke-width="1.4" fill="none"/><path d="M424.8,771.2V793.6" stroke="#ff7d2d" stroke-width="1.4" fill="none" stroke-dasharray="7,4,1.4,4.1"/><path d="M422.2,771.2h5.2M422.2,793.6h5.2" stroke="#ff7d2d" stroke-width="1.4" fill="none"/><path d="M440.5,765.4V789.7" stroke="#ff7d2d" stroke-width="1.4" fill="none" stroke-dasharray="7,4,1.4,4.1"/><path d="M437.9,765.4h5.2M437.9,789.7h5.2" stroke="#ff7d2d" stroke-width="1.4" fill="none"/><path d="M456.1,771.9V799.7" stroke="#ff7d2d" stroke-width="1.4" fill="none" stroke-dasharray="7,4,1.4,4.1"/><path d="M453.5,771.9h5.2M453.5,799.7h5.2" stroke="#ff7d2d" stroke-width="1.4" fill="none"/><path d="M471.8,797.3V831.1" stroke="#ff7d2d" stroke-width="1.4" fill="none" stroke-dasharray="7,4,1.4,4.1"/><path d="M469.2,797.3h5.2M469.2,831.1h5.2" stroke="#ff7d2d" stroke-width="1.4" fill="none"/><path d="M487.4,810.6V838.0" stroke="#ff7d2d" stroke-width="1.4" fill="none" stroke-dasharray="7,4,1.4,4.1"/><path d="M484.8,810.6h5.2M484.8,838.0h5.2" stroke="#ff7d2d" stroke-width="1.4" fill="none"/><path d="M503.1,789.6V827.7" stroke="#ff7d2d" stroke-width="1.4" fill="none" stroke-dasharray="7,4,1.4,4.1"/><path d="M500.5,789.6h5.2M500.5,827.7h5.2" stroke="#ff7d2d" stroke-width="1.4" fill="none"/><path d="M518.7,754.8V795.0" stroke="#ff7d2d" stroke-width="1.4" fill="none" stroke-dasharray="7,4,1.4,4.1"/><path d="M516.1,754.8h5.2M516.1,795.0h5.2" stroke="#ff7d2d" stroke-width="1.4" fill="none"/><path d="M534.4,771.7V819.9" stroke="#ff7d2d" stroke-width="1.4" fill="none" stroke-dasharray="7,4,1.4,4.1"/><path d="M531.8,771.7h5.2M531.8,819.9h5.2" stroke="#ff7d2d" stroke-width="1.4" fill="none"/><path d="M550.0,768.1V824.1" stroke="#ff7d2d" stroke-width="1.4" fill="none" stroke-dasharray="7,4,1.4,4.1"/><path d="M547.4,768.1h5.2M547.4,824.1h5.2" stroke="#ff7d2d" stroke-width="1.4" fill="none"/><path d="M565.7,725.1V770.5" stroke="#ff7d2d" stroke-width="1.4" fill="none" stroke-dasharray="7,4,1.4,4.1"/><path d="M563.1,725.1h5.2M563.1,770.5h5.2" stroke="#ff7d2d" stroke-width="1.4" fill="none"/><path d="M581.3,776.9V838.6" stroke="#ff7d2d" stroke-width="1.4" fill="none" stroke-dasharray="7,4,1.4,4.1"/><path d="M578.7,776.9h5.2M578.7,838.6h5.2" stroke="#ff7d2d" stroke-width="1.4" fill="none"/><path d="M597.0,752.4V816.6" stroke="#ff7d2d" stroke-width="1.4" fill="none" stroke-dasharray="7,4,1.4,4.1"/><path d="M594.4,752.4h5.2M594.4,816.6h5.2" stroke="#ff7d2d" stroke-width="1.4" fill="none"/><path d="M612.6,785.5V841.9" stroke="#ff7d2d" stroke-width="1.4" fill="none" stroke-dasharray="7,4,1.4,4.1"/><path d="M610.0,785.5h5.2M610.0,841.9h5.2" stroke="#ff7d2d" stroke-width="1.4" fill="none"/><path d="M628.3,777.5V844.9" stroke="#ff7d2d" stroke-width="1.4" fill="none" stroke-dasharray="7,4,1.4,4.1"/><path d="M625.7,777.5h5.2M625.7,844.9h5.2" stroke="#ff7d2d" stroke-width="1.4" fill="none"/><path d="M643.9,747.5V775.5" stroke="#ff7d2d" stroke-width="1.4" fill="none" stroke-dasharray="7,4,1.4,4.1"/><path d="M641.3,747.5h5.2M641.3,775.5h5.2" stroke="#ff7d2d" stroke-width="1.4" fill="none"/><path d="M659.6,678.3V758.9" stroke="#ff7d2d" stroke-width="1.4" fill="none" stroke-dasharray="7,4,1.4,4.1"/><path d="M657.0,678.3h5.2M657.0,758.9h5.2" stroke="#ff7d2d" stroke-width="1.4" fill="none"/><path d="M675.2,784.2V883.3" stroke="#ff7d2d" stroke-width="1.4" fill="none" stroke-dasharray="7,4,1.4,4.1"/><path d="M672.6,784.2h5.2M672.6,883.3h5.2" stroke="#ff7d2d" stroke-width="1.4" fill="none"/><path d="M690.9,771.2V862.2" stroke="#ff7d2d" stroke-width="1.4" fill="none" stroke-dasharray="7,4,1.4,4.1"/><path d="M688.3,771.2h5.2M688.3,862.2h5.2" stroke="#ff7d2d" stroke-width="1.4" fill="none"/><path d="M706.5,904.6V1038.9" stroke="#ff7d2d" stroke-width="1.4" fill="none" stroke-dasharray="7,4,1.4,4.1"/><path d="M703.9,904.6h5.2M703.9,1038.9h5.2" stroke="#ff7d2d" stroke-width="1.4" fill="none"/><path d="M722.2,816.4V926.7" stroke="#ff7d2d" stroke-width="1.4" fill="none" stroke-dasharray="7,4,1.4,4.1"/><path d="M719.6,816.4h5.2M719.6,926.7h5.2" stroke="#ff7d2d" stroke-width="1.4" fill="none"/></g><rect x="107.8" y="804.2" width="8" height="8" fill="#ff7d2d"/><rect x="123.5" y="797.0" width="8" height="8" fill="#ff7d2d"/><rect x="139.1" y="789.5" width="8" height="8" fill="#ff7d2d"/><rect x="154.8" y="787.3" width="8" height="8" fill="#ff7d2d"/><rect x="170.4" y="781.0" width="8" height="8" fill="#ff7d2d"/><rect x="186.1" y="779.5" width="8" height="8" fill="#ff7d2d"/><rect x="201.7" y="778.4" width="8" height="8" fill="#ff7d2d"/><rect x="217.4" y="778.0" width="8" height="8" fill="#ff7d2d"/><rect x="233.0" y="802.5" width="8" height="8" fill="#ff7d2d"/><rect x="248.7" y="804.0" width="8" height="8" fill="#ff7d2d"/><rect x="264.3" y="792.0" width="8" height="8" fill="#ff7d2d"/><rect x="280.0" y="785.3" width="8" height="8" fill="#ff7d2d"/><rect x="295.6" y="783.0" width="8" height="8" fill="#ff7d2d"/><rect x="311.3" y="780.3" width="8" height="8" fill="#ff7d2d"/><rect x="326.9" y="774.8" width="8" height="8" fill="#ff7d2d"/><rect x="342.6" y="774.2" width="8" height="8" fill="#ff7d2d"/><rect x="358.2" y="809.0" width="8" height="8" fill="#ff7d2d"/><rect x="373.9" y="793.5" width="8" height="8" fill="#ff7d2d"/><rect x="389.5" y="780.2" width="8" height="8" fill="#ff7d2d"/><rect x="405.2" y="781.8" width="8" height="8" fill="#ff7d2d"/><rect x="420.8" y="778.0" width="8" height="8" fill="#ff7d2d"/><rect x="436.5" y="773.1" width="8" height="8" fill="#ff7d2d"/><rect x="452.1" y="781.2" width="8" height="8" fill="#ff7d2d"/><rect x="467.8" y="809.4" width="8" height="8" fill="#ff7d2d"/><rect x="483.4" y="819.8" width="8" height="8" fill="#ff7d2d"/><rect x="499.1" y="803.6" width="8" height="8" fill="#ff7d2d"/><rect x="514.7" y="769.7" width="8" height="8" fill="#ff7d2d"/><rect x="530.4" y="790.1" width="8" height="8" fill="#ff7d2d"/><rect x="546.0" y="789.8" width="8" height="8" fill="#ff7d2d"/><rect x="561.7" y="742.3" width="8" height="8" fill="#ff7d2d"/><rect x="577.3" y="801.0" width="8" height="8" fill="#ff7d2d"/><rect x="593.0" y="777.6" width="8" height="8" fill="#ff7d2d"/><rect x="608.6" y="807.4" width="8" height="8" fill="#ff7d2d"/><rect x="624.3" y="804.0" width="8" height="8" fill="#ff7d2d"/><rect x="639.9" y="756.9" width="8" height="8" fill="#ff7d2d"/><rect x="655.6" y="710.0" width="8" height="8" fill="#ff7d2d"/><rect x="671.2" y="822.8" width="8" height="8" fill="#ff7d2d"/><rect x="686.9" y="806.8" width="8" height="8" fill="#ff7d2d"/><rect x="718.2" y="859.0" width="8" height="8" fill="#ff7d2d"/>
<g clip-path="url(#cr)"><path d="M111.8,792.0 L127.5,792.0 L143.1,796.0 L158.8,801.7 L174.4,795.0 L190.1,805.0 L205.7,793.5 L221.4,795.0 L237.0,798.0 L252.7,796.0 L268.3,784.0 L284.0,793.5 L299.6,811.8 L315.3,796.3 L330.9,792.0 L346.6,794.3 L362.2,775.0 L377.9,797.1 L393.5,804.6 L409.2,808.7 L424.8,791.7 L440.5,792.1 L456.1,800.3 L471.8,846.6 L487.4,796.4 L503.1,778.9 L518.7,831.0 L534.4,754.3 L550.0,842.7 L565.7,716.5 L581.3,907.0 L597.0,834.5 L612.6,831.5 L628.3,747.4 L643.9,727.6 L659.6,887.8 L675.2,880.0 L690.9,922.0 L706.5,661.3 L722.2,936.6" fill="none" stroke="#0000eb" stroke-width="1.5" stroke-linejoin="round"/><path d="M143.1,789.5V802.8" stroke="#0000eb" stroke-width="1.4" fill="none"/><path d="M140.5,789.5h5.2M140.5,802.8h5.2" stroke="#0000eb" stroke-width="1.4" fill="none"/><path d="M158.8,797.7V805.8" stroke="#0000eb" stroke-width="1.4" fill="none"/><path d="M156.2,797.7h5.2M156.2,805.8h5.2" stroke="#0000eb" stroke-width="1.4" fill="none"/><path d="M174.4,789.0V801.2" stroke="#0000eb" stroke-width="1.4" fill="none"/><path d="M171.8,789.0h5.2M171.8,801.2h5.2" stroke="#0000eb" stroke-width="1.4" fill="none"/><path d="M190.1,800.0V810.1" stroke="#0000eb" stroke-width="1.4" fill="none"/><path d="M187.5,800.0h5.2M187.5,810.1h5.2" stroke="#0000eb" stroke-width="1.4" fill="none"/><path d="M205.7,787.5V799.7" stroke="#0000eb" stroke-width="1.4" fill="none"/><path d="M203.1,787.5h5.2M203.1,799.7h5.2" stroke="#0000eb" stroke-width="1.4" fill="none"/><path d="M221.4,789.0V801.2" stroke="#0000eb" stroke-width="1.4" fill="none"/><path d="M218.8,789.0h5.2M218.8,801.2h5.2" stroke="#0000eb" stroke-width="1.4" fill="none"/><path d="M237.0,792.6V803.6" stroke="#0000eb" stroke-width="1.4" fill="none"/><path d="M234.4,792.6h5.2M234.4,803.6h5.2" stroke="#0000eb" stroke-width="1.4" fill="none"/><path d="M252.7,789.3V803.0" stroke="#0000eb" stroke-width="1.4" fill="none"/><path d="M250.1,789.3h5.2M250.1,803.0h5.2" stroke="#0000eb" stroke-width="1.4" fill="none"/><path d="M268.3,776.5V791.8" stroke="#0000eb" stroke-width="1.4" fill="none"/><path d="M265.7,776.5h5.2M265.7,791.8h5.2" stroke="#0000eb" stroke-width="1.4" fill="none"/><path d="M284.0,784.8V802.7" stroke="#0000eb" stroke-width="1.4" fill="none"/><path d="M281.4,784.8h5.2M281.4,802.7h5.2" stroke="#0000eb" stroke-width="1.4" fill="none"/><path d="M299.6,801.8V822.4" stroke="#0000eb" stroke-width="1.4" fill="none"/><path d="M297.0,801.8h5.2M297.0,822.4h5.2" stroke="#0000eb" stroke-width="1.4" fill="none"/><path d="M315.3,786.6V806.6" stroke="#0000eb" stroke-width="1.4" fill="none"/><path d="M312.7,786.6h5.2M312.7,806.6h5.2" stroke="#0000eb" stroke-width="1.4" fill="none"/><path d="M330.9,781.6V803.1" stroke="#0000eb" stroke-width="1.4" fill="none"/><path d="M328.3,781.6h5.2M328.3,803.1h5.2" stroke="#0000eb" stroke-width="1.4" fill="none"/><path d="M346.6,783.6V805.7" stroke="#0000eb" stroke-width="1.4" fill="none"/><path d="M344.0,783.6h5.2M344.0,805.7h5.2" stroke="#0000eb" stroke-width="1.4" fill="none"/><path d="M362.2,760.9V790.3" stroke="#0000eb" stroke-width="1.4" fill="none"/><path d="M359.6,760.9h5.2M359.6,790.3h5.2" stroke="#0000eb" stroke-width="1.4" fill="none"/><path d="M377.9,778.2V818.2" stroke="#0000eb" stroke-width="1.4" fill="none"/><path d="M375.3,778.2h5.2M375.3,818.2h5.2" stroke="#0000eb" stroke-width="1.4" fill="none"/><path d="M393.5,782.6V829.8" stroke="#0000eb" stroke-width="1.4" fill="none"/><path d="M390.9,782.6h5.2M390.9,829.8h5.2" stroke="#0000eb" stroke-width="1.4" fill="none"/><path d="M409.2,785.0V836.2" stroke="#0000eb" stroke-width="1.4" fill="none"/><path d="M406.6,785.0h5.2M406.6,836.2h5.2" stroke="#0000eb" stroke-width="1.4" fill="none"/><path d="M424.8,767.0V820.5" stroke="#0000eb" stroke-width="1.4" fill="none"/><path d="M422.2,767.0h5.2M422.2,820.5h5.2" stroke="#0000eb" stroke-width="1.4" fill="none"/><path d="M440.5,765.4V823.6" stroke="#0000eb" stroke-width="1.4" fill="none"/><path d="M437.9,765.4h5.2M437.9,823.6h5.2" stroke="#0000eb" stroke-width="1.4" fill="none"/><path d="M456.1,771.4V834.8" stroke="#0000eb" stroke-width="1.4" fill="none"/><path d="M453.5,771.4h5.2M453.5,834.8h5.2" stroke="#0000eb" stroke-width="1.4" fill="none"/><path d="M471.8,815.4V884.7" stroke="#0000eb" stroke-width="1.4" fill="none"/><path d="M469.2,815.4h5.2M469.2,884.7h5.2" stroke="#0000eb" stroke-width="1.4" fill="none"/><path d="M487.4,764.9V834.9" stroke="#0000eb" stroke-width="1.4" fill="none"/><path d="M484.8,764.9h5.2M484.8,834.9h5.2" stroke="#0000eb" stroke-width="1.4" fill="none"/><path d="M503.1,742.2V825.4" stroke="#0000eb" stroke-width="1.4" fill="none"/><path d="M500.5,742.2h5.2M500.5,825.4h5.2" stroke="#0000eb" stroke-width="1.4" fill="none"/><path d="M518.7,785.9V891.9" stroke="#0000eb" stroke-width="1.4" fill="none"/><path d="M516.1,785.9h5.2M516.1,891.9h5.2" stroke="#0000eb" stroke-width="1.4" fill="none"/><path d="M534.4,714.5V805.8" stroke="#0000eb" stroke-width="1.4" fill="none"/><path d="M531.8,714.5h5.2M531.8,805.8h5.2" stroke="#0000eb" stroke-width="1.4" fill="none"/><path d="M550.0,784.4V930.9" stroke="#0000eb" stroke-width="1.4" fill="none"/><path d="M547.4,784.4h5.2M547.4,930.9h5.2" stroke="#0000eb" stroke-width="1.4" fill="none"/><path d="M565.7,673.5V773.8" stroke="#0000eb" stroke-width="1.4" fill="none"/><path d="M563.1,673.5h5.2M563.1,773.8h5.2" stroke="#0000eb" stroke-width="1.4" fill="none"/><path d="M581.3,840.6V1015.4" stroke="#0000eb" stroke-width="1.4" fill="none"/><path d="M578.7,840.6h5.2M578.7,1015.4h5.2" stroke="#0000eb" stroke-width="1.4" fill="none"/><path d="M597.0,774.1V927.4" stroke="#0000eb" stroke-width="1.4" fill="none"/><path d="M594.4,774.1h5.2M594.4,927.4h5.2" stroke="#0000eb" stroke-width="1.4" fill="none"/><path d="M612.6,784.8V895.3" stroke="#0000eb" stroke-width="1.4" fill="none"/><path d="M610.0,784.8h5.2M610.0,895.3h5.2" stroke="#0000eb" stroke-width="1.4" fill="none"/><path d="M628.3,700.8V811.0" stroke="#0000eb" stroke-width="1.4" fill="none"/><path d="M625.7,700.8h5.2M625.7,811.0h5.2" stroke="#0000eb" stroke-width="1.4" fill="none"/><path d="M643.9,636.7V927.6" stroke="#0000eb" stroke-width="1.4" fill="none"/><path d="M641.3,636.7h5.2M641.3,927.6h5.2" stroke="#0000eb" stroke-width="1.4" fill="none"/><path d="M659.6,808.3V1037.7" stroke="#0000eb" stroke-width="1.4" fill="none"/><path d="M657.0,808.3h5.2M657.0,1037.7h5.2" stroke="#0000eb" stroke-width="1.4" fill="none"/><path d="M675.2,800.4V1030.1" stroke="#0000eb" stroke-width="1.4" fill="none"/><path d="M672.6,800.4h5.2M672.6,1030.1h5.2" stroke="#0000eb" stroke-width="1.4" fill="none"/><path d="M690.9,826.9V1146.1" stroke="#0000eb" stroke-width="1.4" fill="none"/><path d="M688.3,826.9h5.2M688.3,1146.1h5.2" stroke="#0000eb" stroke-width="1.4" fill="none"/><path d="M706.5,560.2V928.5" stroke="#0000eb" stroke-width="1.4" fill="none"/><path d="M703.9,560.2h5.2M703.9,928.5h5.2" stroke="#0000eb" stroke-width="1.4" fill="none"/><path d="M722.2,842.4V1155.1" stroke="#0000eb" stroke-width="1.4" fill="none"/><path d="M719.6,842.4h5.2M719.6,1155.1h5.2" stroke="#0000eb" stroke-width="1.4" fill="none"/></g><path d="M111.8,786.6L117.3,796.9H106.3Z" fill="#0000eb"/><path d="M127.5,786.6L133.0,796.9H122.0Z" fill="#0000eb"/><path d="M143.1,790.6L148.6,800.9H137.6Z" fill="#0000eb"/><path d="M158.8,796.3L164.3,806.6H153.3Z" fill="#0000eb"/><path d="M174.4,789.6L179.9,799.9H168.9Z" fill="#0000eb"/><path d="M190.1,799.6L195.6,809.9H184.6Z" fill="#0000eb"/><path d="M205.7,788.1L211.2,798.4H200.2Z" fill="#0000eb"/><path d="M221.4,789.6L226.9,799.9H215.9Z" fill="#0000eb"/><path d="M237.0,792.6L242.5,802.9H231.5Z" fill="#0000eb"/><path d="M252.7,790.6L258.2,800.9H247.2Z" fill="#0000eb"/><path d="M268.3,778.6L273.8,788.9H262.8Z" fill="#0000eb"/><path d="M284.0,788.1L289.5,798.4H278.5Z" fill="#0000eb"/><path d="M299.6,806.4L305.1,816.7H294.1Z" fill="#0000eb"/><path d="M315.3,790.9L320.8,801.2H309.8Z" fill="#0000eb"/><path d="M330.9,786.6L336.4,796.9H325.4Z" fill="#0000eb"/><path d="M346.6,788.9L352.1,799.2H341.1Z" fill="#0000eb"/><path d="M362.2,769.6L367.7,779.9H356.7Z" fill="#0000eb"/><path d="M377.9,791.7L383.4,802.0H372.4Z" fill="#0000eb"/><path d="M393.5,799.2L399.0,809.5H388.0Z" fill="#0000eb"/><path d="M409.2,803.3L414.7,813.6H403.7Z" fill="#0000eb"/><path d="M424.8,786.3L430.3,796.6H419.3Z" fill="#0000eb"/><path d="M440.5,786.7L446.0,797.0H435.0Z" fill="#0000eb"/><path d="M456.1,794.9L461.6,805.2H450.6Z" fill="#0000eb"/><path d="M471.8,841.2L477.3,851.5H466.3Z" fill="#0000eb"/><path d="M487.4,791.0L492.9,801.3H481.9Z" fill="#0000eb"/><path d="M503.1,773.5L508.6,783.8H497.6Z" fill="#0000eb"/><path d="M518.7,825.6L524.2,835.9H513.2Z" fill="#0000eb"/><path d="M534.4,748.9L539.9,759.2H528.9Z" fill="#0000eb"/><path d="M550.0,837.3L555.5,847.6H544.5Z" fill="#0000eb"/><path d="M565.7,711.1L571.2,721.4H560.2Z" fill="#0000eb"/><path d="M581.3,901.6L586.8,911.9H575.8Z" fill="#0000eb"/><path d="M597.0,829.1L602.5,839.4H591.5Z" fill="#0000eb"/><path d="M612.6,826.1L618.1,836.4H607.1Z" fill="#0000eb"/><path d="M628.3,742.0L633.8,752.3H622.8Z" fill="#0000eb"/><path d="M643.9,722.2L649.4,732.5H638.4Z" fill="#0000eb"/><path d="M659.6,882.4L665.1,892.7H654.1Z" fill="#0000eb"/><path d="M675.2,874.6L680.7,884.9H669.7Z" fill="#0000eb"/><path d="M690.9,916.6L696.4,926.9H685.4Z" fill="#0000eb"/><path d="M706.5,655.9L712.0,666.2H701.0Z" fill="#0000eb"/><path d="M722.2,931.2L727.7,941.5H716.7Z" fill="#0000eb"/>
<path d="M92,795.8H741" stroke="#000" stroke-width="1.4"/>
<rect x="91" y="35" width="651" height="600" fill="none" stroke="#000" stroke-width="2"/><rect x="91" y="635" width="651" height="321" fill="none" stroke="#000" stroke-width="2"/><path d="M104.00,36v15.5M104.00,634v-15.5M104.00,636v9.5M104.00,955v-10M119.65,36v4M119.65,634v-4M119.65,636v2M119.65,955v-2.5M135.30,36v7.5M135.30,634v-7.5M135.30,636v3.8M135.30,955v-4.5M150.95,36v4M150.95,634v-4M150.95,636v2M150.95,955v-2.5M166.60,36v7.5M166.60,634v-7.5M166.60,636v3.8M166.60,955v-4.5M182.25,36v4M182.25,634v-4M182.25,636v2M182.25,955v-2.5M197.90,36v7.5M197.90,634v-7.5M197.90,636v3.8M197.90,955v-4.5M213.55,36v4M213.55,634v-4M213.55,636v2M213.55,955v-2.5M229.20,36v7.5M229.20,634v-7.5M229.20,636v3.8M229.20,955v-4.5M244.85,36v4M244.85,634v-4M244.85,636v2M244.85,955v-2.5M260.50,36v15.5M260.50,634v-15.5M260.50,636v9.5M260.50,955v-10M276.15,36v4M276.15,634v-4M276.15,636v2M276.15,955v-2.5M291.80,36v7.5M291.80,634v-7.5M291.80,636v3.8M291.80,955v-4.5M307.45,36v4M307.45,634v-4M307.45,636v2M307.45,955v-2.5M323.10,36v7.5M323.10,634v-7.5M323.10,636v3.8M323.10,955v-4.5M338.75,36v4M338.75,634v-4M338.75,636v2M338.75,955v-2.5M354.40,36v7.5M354.40,634v-7.5M354.40,636v3.8M354.40,955v-4.5M370.05,36v4M370.05,634v-4M370.05,636v2M370.05,955v-2.5M385.70,36v7.5M385.70,634v-7.5M385.70,636v3.8M385.70,955v-4.5M401.35,36v4M401.35,634v-4M401.35,636v2M401.35,955v-2.5M417.00,36v15.5M417.00,634v-15.5M417.00,636v9.5M417.00,955v-10M432.65,36v4M432.65,634v-4M432.65,636v2M432.65,955v-2.5M448.30,36v7.5M448.30,634v-7.5M448.30,636v3.8M448.30,955v-4.5M463.95,36v4M463.95,634v-4M463.95,636v2M463.95,955v-2.5M479.60,36v7.5M479.60,634v-7.5M479.60,636v3.8M479.60,955v-4.5M495.25,36v4M495.25,634v-4M495.25,636v2M495.25,955v-2.5M510.90,36v7.5M510.90,634v-7.5M510.90,636v3.8M510.90,955v-4.5M526.55,36v4M526.55,634v-4M526.55,636v2M526.55,955v-2.5M542.20,36v7.5M542.20,634v-7.5M542.20,636v3.8M542.20,955v-4.5M557.85,36v4M557.85,634v-4M557.85,636v2M557.85,955v-2.5M573.50,36v15.5M573.50,634v-15.5M573.50,636v9.5M573.50,955v-10M589.15,36v4M589.15,634v-4M589.15,636v2M589.15,955v-2.5M604.80,36v7.5M604.80,634v-7.5M604.80,636v3.8M604.80,955v-4.5M620.45,36v4M620.45,634v-4M620.45,636v2M620.45,955v-2.5M636.10,36v7.5M636.10,634v-7.5M636.10,636v3.8M636.10,955v-4.5M651.75,36v4M651.75,634v-4M651.75,636v2M651.75,955v-2.5M667.40,36v7.5M667.40,634v-7.5M667.40,636v3.8M667.40,955v-4.5M683.05,36v4M683.05,634v-4M683.05,636v2M683.05,955v-2.5M698.70,36v7.5M698.70,634v-7.5M698.70,636v3.8M698.70,955v-4.5M714.35,36v4M714.35,634v-4M714.35,636v2M714.35,955v-2.5M730.00,36v15.5M730.00,634v-15.5M730.00,636v9.5M730.00,955v-10" stroke="#000" stroke-width="1.8" fill="none"/><path d="M92,635.00h22M741,635.00h-22M92,615.32h11M741,615.32h-11M92,595.64h11M741,595.64h-11M92,575.96h11M741,575.96h-11M92,556.28h22M741,556.28h-22M92,536.60h11M741,536.60h-11M92,516.92h11M741,516.92h-11M92,497.24h11M741,497.24h-11M92,477.56h22M741,477.56h-22M92,457.88h11M741,457.88h-11M92,438.20h11M741,438.20h-11M92,418.52h11M741,418.52h-11M92,398.84h22M741,398.84h-22M92,379.16h11M741,379.16h-11M92,359.48h11M741,359.48h-11M92,339.80h11M741,339.80h-11M92,320.12h22M741,320.12h-22M92,300.44h11M741,300.44h-11M92,280.76h11M741,280.76h-11M92,261.08h11M741,261.08h-11M92,241.40h22M741,241.40h-22M92,221.72h11M741,221.72h-11M92,202.04h11M741,202.04h-11M92,182.36h11M741,182.36h-11M92,162.68h22M741,162.68h-22M92,143.00h11M741,143.00h-11M92,123.32h11M741,123.32h-11M92,103.64h11M741,103.64h-11M92,83.96h22M741,83.96h-22M92,64.28h11M741,64.28h-11M92,44.60h11M741,44.60h-11M92,917.05h13.7M741,917.05h-13.7M92,885.16h9M741,885.16h-9M92,858.19h9M741,858.19h-9M92,834.84h9M741,834.84h-9M92,814.23h9M741,814.23h-9M92,795.80h13.7M741,795.80h-13.7M92,779.13h9M741,779.13h-9M92,763.91h9M741,763.91h-9M92,749.90h9M741,749.90h-9M92,736.94h9M741,736.94h-9M92,724.87h9M741,724.87h-9M92,713.58h9M741,713.58h-9M92,702.98h9M741,702.98h-9M92,692.98h9M741,692.98h-9M92,683.52h9M741,683.52h-9M92,674.55h13.7M741,674.55h-13.7M92,666.01h9M741,666.01h-9M92,657.87h9M741,657.87h-9M92,650.10h9M741,650.10h-9M92,642.65h9M741,642.65h-9" stroke="#000" stroke-width="1.5" fill="none"/>
<clipPath id="c0"><rect x="0" y="0" width="92" height="636"/></clipPath>
<text x="82.3" y="645.6" font-size="23" text-anchor="end" clip-path="url(#c0)">0</text><text x="82.3" y="565.6" font-size="23" text-anchor="end">2</text><text x="82.3" y="486.9" font-size="23" text-anchor="end">4</text><text x="82.3" y="408.1" font-size="23" text-anchor="end">6</text><text x="82.3" y="329.4" font-size="23" text-anchor="end">8</text><text x="82.3" y="250.7" font-size="23" text-anchor="end">10</text><text x="82.3" y="172.0" font-size="23" text-anchor="end">12</text><text x="82.3" y="93.3" font-size="23" text-anchor="end">14</text><text x="104.0" y="978.2" font-size="24" text-anchor="middle">0</text><text x="260.5" y="978.2" font-size="24" text-anchor="middle">10</text><text x="417.0" y="978.2" font-size="24" text-anchor="middle">20</text><text x="573.5" y="978.2" font-size="24" text-anchor="middle">30</text><text x="730.0" y="978.2" font-size="24" text-anchor="middle">40</text><text x="77" y="925.7" font-size="24" text-anchor="end">0.5</text><text x="748" y="925.7" font-size="24">0.5</text><text x="77" y="804.4" font-size="24" text-anchor="end">1</text><text x="748" y="804.4" font-size="24">1</text><text x="77" y="683.1" font-size="24" text-anchor="end">2</text><text x="748" y="683.1" font-size="24">2</text>
</svg></body></html>
